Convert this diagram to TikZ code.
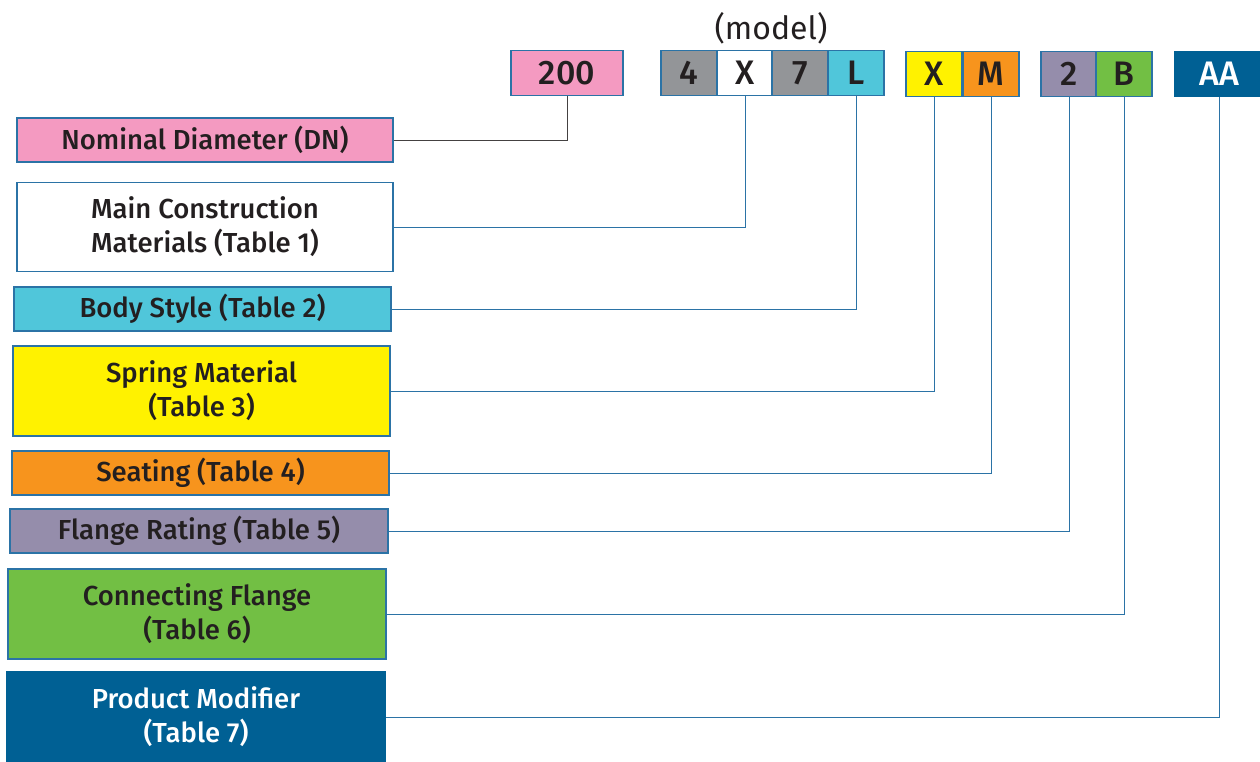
\documentclass[tikz,border=0pt]{standalone}
\usepackage{fontspec}
\setmainfont{Fira Sans}[BoldFont={Fira Sans Medium}]
\definecolor{pinkc}{HTML}{F49AC1}
\definecolor{grayc}{HTML}{939598}
\definecolor{cyanc}{HTML}{50C6DA}
\definecolor{yellowc}{HTML}{FFF200}
\definecolor{orangec}{HTML}{F7941D}
\definecolor{lilac}{HTML}{958DAB}
\definecolor{greenc}{HTML}{72BF44}
\definecolor{bluec}{HTML}{006094}
\definecolor{edgec}{HTML}{2B73A6}
\definecolor{inkc}{HTML}{231F20}
\tikzset{
  codebox/.style={draw=edgec, line width=1.3pt, minimum height=45pt, inner sep=0pt,
    text=inkc, font=\bfseries\fontsize{34}{34}\selectfont},
  labelbox/.style={draw=edgec, line width=1.3pt, inner sep=0pt, align=center,
    text=inkc, font=\bfseries\fontsize{27.5}{34}\selectfont},
  link/.style={draw=edgec, line width=1pt}
}
\begin{document}
\begin{tikzpicture}[x=1pt,y=-1pt]
  \useasboundingbox[fill=white] (0,0) rectangle (1260,761);

  % code row
  \node[font=\fontsize{32}{32}\selectfont, text=inkc] (model) at (771,28) {(model)};
  \node[codebox, fill=pinkc, minimum width=112pt] (dn) at (567,73) {200};
  \node[codebox, fill=grayc, minimum width=56pt] (c1) at (689,73) {4};
  \node[codebox, fill=white, minimum width=56pt] (c2) at (745,73) {X};
  \node[codebox, fill=grayc, minimum width=56pt] (c3) at (800,73) {7};
  \node[codebox, fill=cyanc, minimum width=56pt] (c4) at (856,73) {L};
  \node[codebox, fill=yellowc, minimum width=56pt] (c5) at (934,74) {X};
  \node[codebox, fill=orangec, minimum width=56pt] (c6) at (991,74) {M};
  \node[codebox, fill=lilac, minimum width=56pt] (c7) at (1069,74) {2};
  \node[codebox, fill=greenc, minimum width=56pt] (c8) at (1124,74) {B};
  \node[codebox, fill=bluec, draw=bluec, text=white, minimum width=88pt] (c9) at (1219,74) {AA};

  % descriptions
  \node[labelbox, fill=pinkc, minimum width=376pt, minimum height=44pt] (nomd) at (205,140) {Nominal Diameter (DN)};
  \node[labelbox, fill=white, minimum width=376pt, minimum height=89pt] (mat) at (205,227) {Main Construction\\Materials (Table 1)};
  \node[labelbox, fill=cyanc, minimum width=377pt, minimum height=44pt] (body) at (202.5,309) {Body Style (Table 2)};
  \node[labelbox, fill=yellowc, minimum width=377pt, minimum height=90pt] (spring) at (201.5,391) {Spring Material\\(Table 3)};
  \node[labelbox, fill=orangec, minimum width=377pt, minimum height=44pt] (seat) at (200.5,473) {Seating (Table 4)};
  \node[labelbox, fill=lilac, minimum width=378pt, minimum height=44pt] (rating) at (199,531) {Flange Rating (Table 5)};
  \node[labelbox, fill=greenc, minimum width=378pt, minimum height=90pt] (flange) at (197,614) {Connecting Flange\\(Table 6)};
  \node[labelbox, fill=bluec, draw=bluec, text=white, minimum width=378pt, minimum height=90pt] (modif) at (196,717) {Product Modifier\\(Table 7)};

  % connectors
  \draw[link, draw=inkc!85] (nomd.east) -| (dn.south);
  \draw[link] (mat.east) -| (c2.south);
  \draw[link] (body.east) -| (c4.south);
  \draw[link] (spring.east) -| (c5.south);
  \draw[link] (seat.east) -| (c6.south);
  \draw[link] (rating.east) -| (c7.south);
  \draw[link] (flange.east) -| (c8.south);
  \draw[link] (modif.east) -| (c9.south);
\end{tikzpicture}
\end{document}
